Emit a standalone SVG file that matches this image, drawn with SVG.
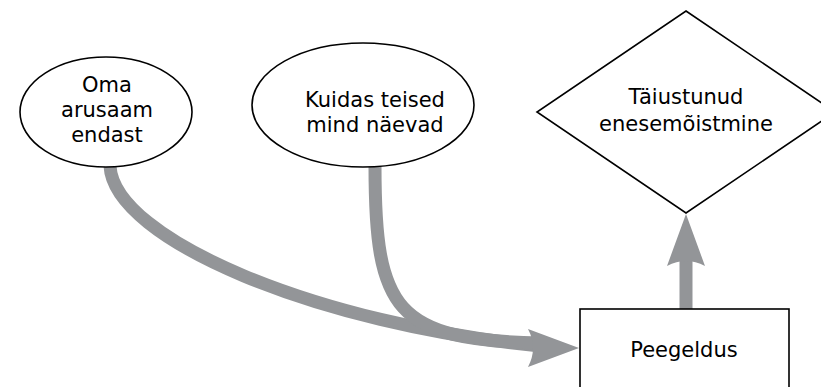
<svg xmlns="http://www.w3.org/2000/svg" width="821" height="387" viewBox="0 0 821 387">
<style>
.node{fill:#fff;stroke:#000;stroke-width:1.6}
.t{font-family:"DejaVu Sans",sans-serif;font-size:21px;fill:#000;text-anchor:middle}
.c{fill:none;stroke:#939598;stroke-width:13}
.h{fill:#939598;stroke:none}
</style>
<rect width="821" height="387" fill="#fff"/>
<g id="connectors">
<path class="c" d="M110,166 C114,240 320,325 540,346"/>
<path class="c" d="M375,166 C375,310 395,340 540,343"/>
<path class="h" d="M579,348 L528,329 Q538,348 528,367 Z"/>
<path class="c" d="M686,310 L686,255"/>
<path class="h" d="M686,214 L705,266 Q686,256 667,266 Z"/>
</g>
<g id="oma">
<ellipse class="node" cx="106" cy="112" rx="86" ry="55"/>
<text class="t" x="107" y="92">Oma</text>
<text class="t" x="107" y="117">arusaam</text>
<text class="t" x="107" y="142">endast</text>
</g>
<g id="kuidas">
<ellipse class="node" cx="363" cy="105" rx="111" ry="62"/>
<text class="t" x="375" y="107">Kuidas teised</text>
<text class="t" x="375" y="132">mind näevad</text>
</g>
<g id="taiustunud">
<polygon class="node" points="686,11 835,112 686,213 537,112"/>
<text class="t" x="686" y="104">Täiustunud</text>
<text class="t" x="686" y="131">enesemõistmine</text>
</g>
<g id="peegeldus">
<rect class="node" x="580" y="309" width="209" height="100"/>
<text class="t" x="684" y="357">Peegeldus</text>
</g>
</svg>
